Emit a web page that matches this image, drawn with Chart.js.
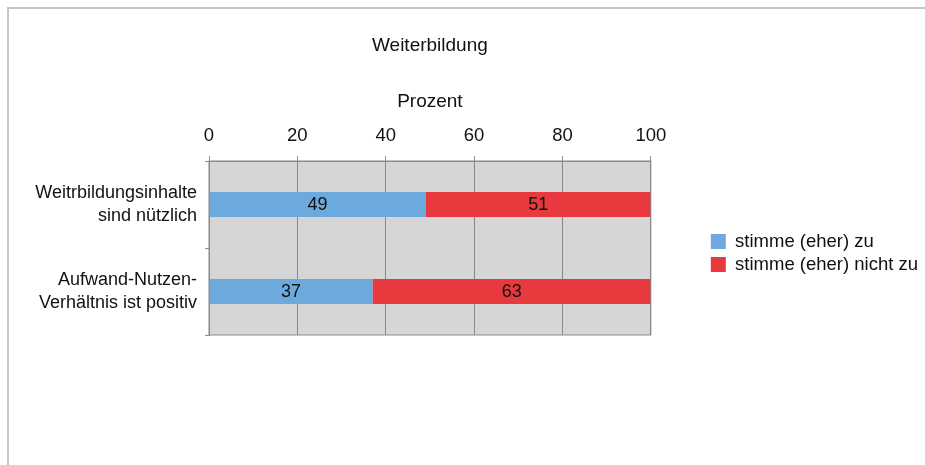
<!DOCTYPE html>
<html><head><meta charset="utf-8">
<script src="https://cdn.jsdelivr.net/npm/chart.js@4.4.0/dist/chart.umd.min.js"></script>
<style>
html,body{margin:0;padding:0;background:#fff;}
#wrap{position:relative;width:925px;height:465px;overflow:hidden;}
#frame{position:absolute;left:7px;top:7px;right:-4px;bottom:-4px;border-top:2px solid #c6c6c6;border-left:2px solid #c6c6c6;}
canvas{position:absolute;left:0;top:0;}
</style></head><body>
<div id="wrap"><div id="frame"></div><canvas id="c" width="925" height="465"></canvas></div>
<script>
const chartTitle = 'Weiterbildung';
const axisTitle = 'Prozent';
const categories = [['Weitrbildungsinhalte', 'sind nützlich'], ['Aufwand-Nutzen-', 'Verhältnis ist positiv']];
const seriesNames = ['stimme (eher) zu', 'stimme (eher) nicht zu'];
const agreeValues = [49, 37];
const disagreeValues = [51, 63];
const xTickValues = [0, 20, 40, 60, 80, 100];

Chart.defaults.font.family = "'Liberation Sans', Arial, Helvetica, sans-serif";
Chart.defaults.color = '#111';

const LEGEND_SHIFT = 55.5;

const plotFrame = {
  id: 'plotFrame',
  afterLayout(chart) {
    const lg = chart.legend;
    if (lg) { lg.left += LEGEND_SHIFT; lg.right += LEGEND_SHIFT; }
  },
  beforeDraw(chart) {
    const {ctx, chartArea: a} = chart;
    ctx.save();
    ctx.fillStyle = '#d6d6d6';
    ctx.fillRect(a.left, a.top, a.right - a.left, a.bottom - a.top);
    ctx.restore();
  },
  afterDatasetsDraw(chart) {
    const {ctx, chartArea: a} = chart;
    ctx.save();
    ctx.strokeStyle = '#8a8a8a';
    ctx.lineWidth = 1;
    ctx.strokeRect(a.left, a.top, a.right - a.left, a.bottom - a.top);
    ctx.font = "18px 'Liberation Sans', Arial, sans-serif";
    ctx.fillStyle = '#111';
    ctx.textAlign = 'center';
    ctx.textBaseline = 'middle';
    chart.data.datasets.forEach((ds, i) => {
      chart.getDatasetMeta(i).data.forEach((bar, j) => {
        const p = bar.getCenterPoint();
        ctx.fillText(String(ds.data[j]), p.x, p.y + 1);
      });
    });
    ctx.restore();
  }
};

new Chart(document.getElementById('c'), {
  type: 'bar',
  data: {
    labels: categories,
    datasets: [
      {label: seriesNames[0], data: agreeValues, backgroundColor: '#6ca9dd', borderWidth: 0, xAxisID: 'x', yAxisID: 'y', barPercentage: 0.29, categoryPercentage: 1.0},
      {label: seriesNames[1], data: disagreeValues, backgroundColor: '#e8393e', borderWidth: 0, xAxisID: 'x', yAxisID: 'y', barPercentage: 0.29, categoryPercentage: 1.0}
    ]
  },
  options: {
    indexAxis: 'y',
    responsive: false,
    animation: false,
    layout: {padding: {top: 0, left: 0, right: 57.25, bottom: 130}},
    scales: {
      x: {
        type: 'linear', position: 'top', stacked: true, min: 0, max: 100,
        afterBuildTicks(scale) { scale.ticks = xTickValues.map(v => ({value: v})); },
        ticks: {font: {size: 18.5}, color: '#111', padding: 9},
        grid: {color: '#8a8a8a', lineWidth: 1, tickLength: 5},
        border: {color: '#8a8a8a'},
        title: {display: true, text: axisTitle, font: {size: 19}, color: '#111', padding: {top: 33.2, bottom: 0}},
        afterFit(scale) { scale.height = 103.6; }
      },
      y: {
        type: 'category', position: 'left', stacked: true,
        ticks: {font: {size: 18, lineHeight: 1.25}, color: '#111', padding: 8},
        grid: {display: true, drawOnChartArea: false, drawTicks: true, tickLength: 4, color: '#8a8a8a', offset: true},
        border: {color: '#8a8a8a'},
        afterFit(scale) { scale.width = 209; }
      }
    },
    plugins: {
      title: {display: true, text: chartTitle, fullSize: false, font: {size: 19, weight: 'normal'}, color: '#111', padding: {top: 34.6, bottom: 0}},
      legend: {
        display: true, position: 'right', align: 'center', fullSize: false,
        title: {display: true, text: '', font: {size: 8, lineHeight: 1}, padding: 1},
        labels: {font: {size: 18.5}, color: '#111', boxWidth: 15, boxHeight: 15, padding: 4.5}
      },
      tooltip: {enabled: false}
    }
  },
  plugins: [plotFrame]
});
</script>
</body></html>
